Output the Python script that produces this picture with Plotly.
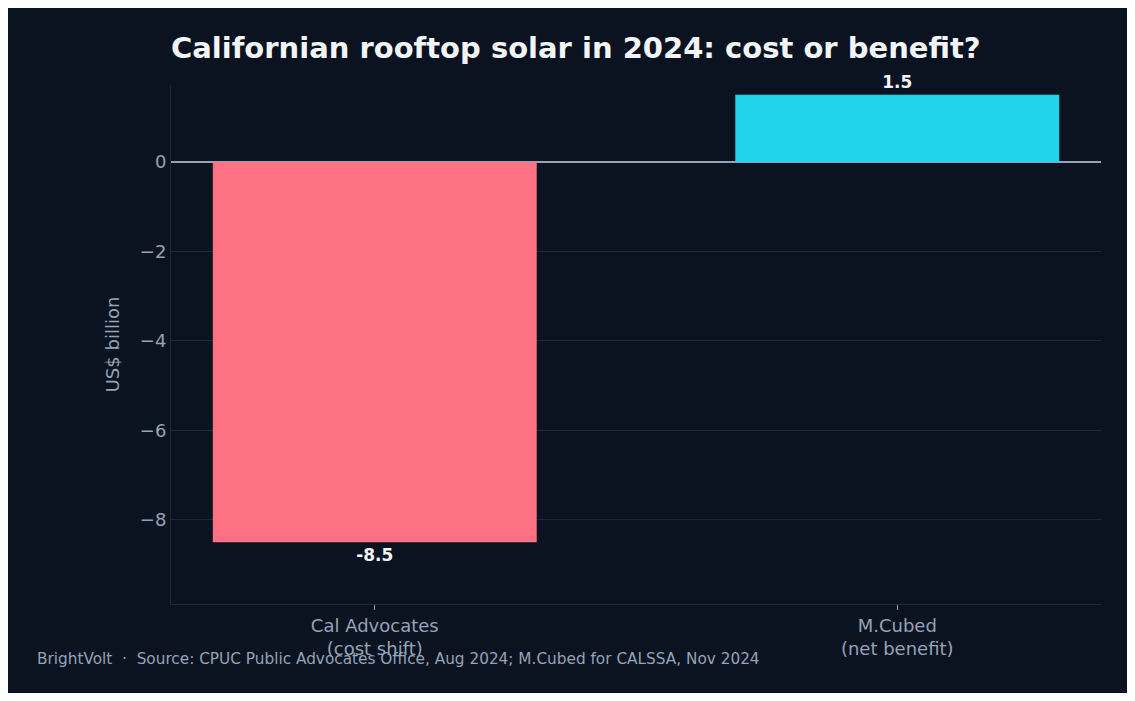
import plotly.graph_objects as go

categories = ["Cal Advocates<br>(cost shift)", "M.Cubed<br>(net benefit)"]
values = [-8.5, 1.5]
colors = ["#ff7185", "#22d3ee"]
labels = ["-8.5", "1.5"]

bg = "#0b1320"
W, H = 1119, 685
L, R, T, B = 163, 26, 77, 89
fig = go.Figure(go.Bar(
    x=[0, 1], y=values, width=0.62, marker=dict(color=colors, line=dict(width=0)),
    text=labels, textposition="outside", cliponaxis=False,
    textfont=dict(color="#f1f5f9", size=17, family="DejaVu Sans"),
))
fig.update_traces(texttemplate="<b>%{text}</b>")
pw = W - L - R
ph = H - T - B
fig.update_layout(
    width=W, height=H, paper_bgcolor=bg, plot_bgcolor=bg,
    font=dict(family="DejaVu Sans", color="#94a3b8", size=18),
    margin=dict(l=L, r=R, t=T, b=B),
    showlegend=False,
    title=dict(text="<b>Californian rooftop solar in 2024: cost or benefit?</b>",
               x=L/W, xanchor="left", y=1 - 40/H, yanchor="middle",
               font=dict(size=29, color="#f1f5f9")),
    xaxis=dict(range=[-0.39, 1.39], tickvals=[0, 1], ticktext=categories,
               showgrid=False, showline=True, linecolor="#1e293b", ticks="outside",
               tickcolor="#94a3b8", ticklen=5, tickfont=dict(size=18)),
    yaxis=dict(range=[-9.88, 1.72], dtick=2, gridcolor="#1e293b", zeroline=True,
               zerolinecolor="#94a3b8", zerolinewidth=2, showline=True, linecolor="#1e293b",
               title=dict(text="US$ billion", font=dict(size=18)), tickfont=dict(size=18)),
    annotations=[dict(text="BrightVolt  ·  Source: CPUC Public Advocates Office, Aug 2024; M.Cubed for CALSSA, Nov 2024",
                      xref="paper", yref="paper", x=(27 - L) / pw, xanchor="left",
                      y=(H - B - 651) / ph, yanchor="middle", showarrow=False,
                      font=dict(size=15.3, color="#94a3b8"))],
)
fig.write_html("out.html")
